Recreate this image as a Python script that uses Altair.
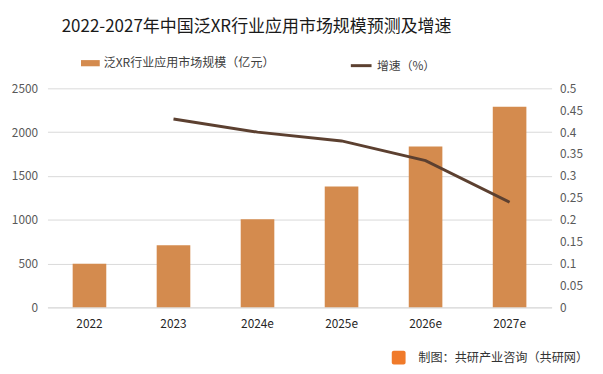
import altair as alt
import pandas as pd

years = ["2022", "2023", "2024e", "2025e", "2026e", "2027e"]
scale_vals = [497, 710, 1005, 1380, 1835, 2290]
growth_years = ["2023", "2024e", "2025e", "2026e", "2027e"]
growth_vals = [0.43, 0.40, 0.38, 0.335, 0.24]

bar_name = "泛XR行业应用市场规模（亿元）"
line_name = "增速（%）"
title_text = "2022-2027年中国泛XR行业应用市场规模预测及增速"
footer_text = "制图：共研产业咨询（共研网）"

FONT = "Noto Sans CJK SC"

bar_df = pd.DataFrame({"year": years, "value": scale_vals, "series": bar_name})
line_df = pd.DataFrame({"year": growth_years, "rate": growth_vals, "series": line_name})

x_enc = alt.X(
    "year:N",
    sort=years,
    scale=alt.Scale(paddingInner=0.6, paddingOuter=0.3),
    axis=alt.Axis(title=None, labelAngle=0, ticks=False, domain=True, domainColor="#d9d9d9",
                  labelColor="#262626", labelFontSize=12, labelPadding=11, labelFont=FONT),
)

bars = alt.Chart(bar_df).mark_bar(color="#d48b4e").encode(
    x=x_enc,
    y=alt.Y("value:Q", scale=alt.Scale(domain=[0, 2500]),
            axis=alt.Axis(title=None, values=[0, 500, 1000, 1500, 2000, 2500], domain=False, ticks=False,
                          format="d", gridColor="#d9d9d9", labelColor="#595959", labelFontSize=12,
                          labelPadding=10, labelFont=FONT)),
    fill=alt.Fill("series:N", scale=alt.Scale(range=["#d48b4e"]),
                  legend=alt.Legend(title=None, orient="none", legendX=34, legendY=-35,
                                    symbolType="M-1,-0.33H1V0.33H-1Z", symbolSize=361,
                                    symbolStrokeWidth=0, labelFontSize=12.2, labelColor="#404040",
                                    labelFont=FONT, labelLimit=400)),
)

line = alt.Chart(line_df).mark_line(strokeWidth=3, color="#5c4030").encode(
    x=alt.X("year:N", sort=years),
    y=alt.Y("rate:Q", scale=alt.Scale(domain=[0, 0.5]),
            axis=alt.Axis(title=None, orient="right", grid=False, domain=False, ticks=False,
                          values=[i * 0.05 for i in range(11)], format="~g",
                          labelColor="#595959", labelFontSize=12, labelPadding=8, labelFont=FONT)),
    stroke=alt.Stroke("series:N", scale=alt.Scale(range=["#5c4030"]),
                      legend=alt.Legend(title=None, orient="none", legendX=306, legendY=-35,
                                        symbolType="stroke", symbolSize=441, symbolStrokeWidth=3,
                                        labelFontSize=12, labelColor="#404040", labelFont=FONT)),
)

title = alt.Chart(pd.DataFrame({"t": [title_text]})).mark_text(
    align="center", baseline="middle", fontSize=17.2, color="#1a1a1a", font=FONT
).encode(text="t:N", x=alt.value(212), y=alt.value(-62))

footer = alt.Chart(pd.DataFrame({"t": [footer_text]})).mark_text(
    align="right", baseline="middle", fontSize=12.3, color="#333333", font=FONT
).encode(text="t:N", x=alt.value(548), y=alt.value(273))

logo = alt.Chart(pd.DataFrame({"t": [footer_text]})).mark_rect(
    color="#f07a2a", cornerRadius=2
).encode(x=alt.value(349), x2=alt.value(363), y=alt.value(266), y2=alt.value(280))

chart = alt.layer(bars, line, title, footer, logo).resolve_scale(
    y="independent", fill="independent", stroke="independent"
).properties(
    width=511, height=222,
    autosize=alt.AutoSizeParams(type="none"),
    padding={"left": 40, "top": 79, "right": 44, "bottom": 57},
    view=alt.ViewBackground(stroke="transparent", strokeWidth=0),
).configure_view(stroke="transparent", strokeWidth=0).configure_axisY(domain=False).configure(background="white")

chart.save("out.html", embed_options={"renderer": "svg", "actions": False})
